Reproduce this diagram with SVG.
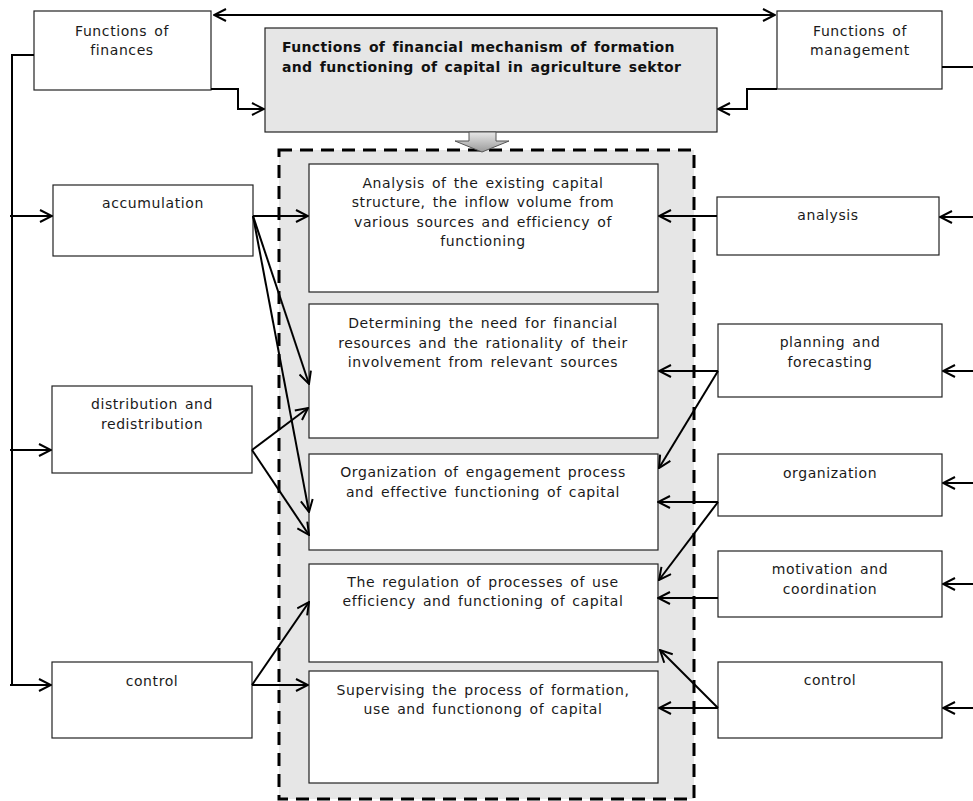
<svg xmlns="http://www.w3.org/2000/svg" width="973" height="801" viewBox="0 0 973 801">
<defs>
<marker id="ah" viewBox="0 0 14 14" refX="13" refY="7" markerWidth="14" markerHeight="14" markerUnits="userSpaceOnUse" orient="auto-start-reverse">
<path d="M1,1 L13,7 L1,13" fill="none" stroke="#000" stroke-width="2"/>
</marker>
<linearGradient id="bg" x1="0" y1="0" x2="0" y2="1">
<stop offset="0" stop-color="#e8e8e8"/>
<stop offset="1" stop-color="#9a9a9a"/>
</linearGradient>
<style>
.box{fill:#fff;stroke:#222;stroke-width:1.2}
.t{font-family:"DejaVu Sans",sans-serif;font-size:14px;fill:#1a1a1a;text-anchor:middle;letter-spacing:0.6px;word-spacing:2px}
.tb{font-family:"DejaVu Sans",sans-serif;font-size:14px;font-weight:bold;fill:#111;letter-spacing:0.35px;word-spacing:2px}
.c{fill:none;stroke:#000;stroke-width:2}
.a{fill:none;stroke:#000;stroke-width:2;marker-end:url(#ah)}
</style>
</defs>
<rect width="973" height="801" fill="#fff"/>

<g id="container">
<rect x="279" y="150" width="415" height="649" fill="#e6e6e6" stroke="#000" stroke-width="3" stroke-dasharray="13,8"/>
</g>

<g id="main">
<rect x="265" y="28" width="452" height="104" fill="#e6e6e6" stroke="#222" stroke-width="1.2"/>
<text class="tb" x="282" y="52">Functions of financial mechanism of formation</text>
<text class="tb" x="282" y="72">and functioning of capital in agriculture sektor</text>
</g>

<g id="downarrow">
<path d="M469,132 L496,132 L496,141 L509,141 L482,152 L455,141 L469,141 Z" fill="url(#bg)" stroke="#555" stroke-width="1"/>
</g>

<g id="fin">
<rect class="box" x="34" y="11" width="177" height="79"/>
<text class="t" x="122" y="36">Functions of</text>
<text class="t" x="122" y="55">finances</text>
</g>
<g id="mgmt">
<rect class="box" x="777" y="11" width="165" height="78"/>
<text class="t" x="860" y="36">Functions of</text>
<text class="t" x="860" y="55">management</text>
</g>

<g id="b1">
<rect class="box" x="309" y="164" width="349" height="128"/>
<text class="t" x="483" y="188">Analysis of the existing capital</text>
<text class="t" x="483" y="207">structure, the inflow volume from</text>
<text class="t" x="483" y="227">various sources and efficiency of</text>
<text class="t" x="483" y="246">functioning</text>
</g>
<g id="b2">
<rect class="box" x="309" y="304" width="349" height="134"/>
<text class="t" x="483" y="328">Determining the need for financial</text>
<text class="t" x="483" y="348">resources and the rationality of their</text>
<text class="t" x="483" y="367">involvement from relevant sources</text>
</g>
<g id="b3">
<rect class="box" x="309" y="454" width="349" height="96"/>
<text class="t" x="483" y="477">Organization of engagement process</text>
<text class="t" x="483" y="497">and effective functioning of capital</text>
</g>
<g id="b4">
<rect class="box" x="309" y="564" width="349" height="98"/>
<text class="t" x="483" y="587">The regulation of processes of use</text>
<text class="t" x="483" y="606">efficiency and functioning of capital</text>
</g>
<g id="b5">
<rect class="box" x="309" y="671" width="349" height="112"/>
<text class="t" x="483" y="695">Supervising the process of formation,</text>
<text class="t" x="483" y="714">use and functionong of capital</text>
</g>

<g id="l1">
<rect class="box" x="53" y="185" width="200" height="71"/>
<text class="t" x="153" y="208">accumulation</text>
</g>
<g id="l2">
<rect class="box" x="52" y="386" width="200" height="87"/>
<text class="t" x="152" y="409">distribution and</text>
<text class="t" x="152" y="429">redistribution</text>
</g>
<g id="l3">
<rect class="box" x="52" y="662" width="200" height="76"/>
<text class="t" x="152" y="686">control</text>
</g>

<g id="r1">
<rect class="box" x="717" y="197" width="222" height="58"/>
<text class="t" x="828" y="220">analysis</text>
</g>
<g id="r2">
<rect class="box" x="718" y="324" width="224" height="73"/>
<text class="t" x="830" y="347">planning and</text>
<text class="t" x="830" y="367">forecasting</text>
</g>
<g id="r3">
<rect class="box" x="718" y="454" width="224" height="62"/>
<text class="t" x="830" y="478">organization</text>
</g>
<g id="r4">
<rect class="box" x="718" y="551" width="224" height="66"/>
<text class="t" x="830" y="574">motivation and</text>
<text class="t" x="830" y="594">coordination</text>
</g>
<g id="r5">
<rect class="box" x="718" y="662" width="224" height="76"/>
<text class="t" x="830" y="685">control</text>
</g>

<g id="connectors">
<line class="c" x1="214" y1="15" x2="775" y2="15" marker-start="url(#ah)" marker-end="url(#ah)"/>
<polyline class="a" points="211,89 238,89 238,109 264,109"/>
<polyline class="a" points="777,89 747,89 747,109 718,109"/>
<line class="c" x1="942" y1="67" x2="973" y2="67"/>
<polyline class="c" points="34,55 12,55 12,685"/>
<line class="a" x1="10" y1="216" x2="52" y2="216"/>
<line class="a" x1="10" y1="450" x2="51" y2="450"/>
<line class="a" x1="10" y1="685" x2="51" y2="685"/>

<line class="a" x1="253" y1="216" x2="308" y2="216"/>
<line class="a" x1="253" y1="216" x2="309" y2="384"/>
<line class="a" x1="253" y1="216" x2="309" y2="512"/>
<line class="a" x1="252" y1="450" x2="308" y2="408"/>
<line class="a" x1="252" y1="450" x2="309" y2="535"/>
<line class="a" x1="252" y1="685" x2="308" y2="685"/>
<line class="a" x1="252" y1="685" x2="309" y2="602"/>

<line class="a" x1="973" y1="217" x2="940" y2="217"/>
<line class="a" x1="973" y1="371" x2="943" y2="371"/>
<line class="a" x1="973" y1="483" x2="943" y2="483"/>
<line class="a" x1="973" y1="584" x2="943" y2="584"/>
<line class="a" x1="973" y1="708" x2="943" y2="708"/>

<line class="a" x1="717" y1="216" x2="659" y2="216"/>
<line class="a" x1="718" y1="371" x2="659" y2="371"/>
<line class="a" x1="718" y1="371" x2="659" y2="468"/>
<line class="a" x1="718" y1="502" x2="658" y2="502"/>
<line class="a" x1="718" y1="502" x2="659" y2="580"/>
<line class="a" x1="718" y1="598" x2="658" y2="598"/>
<line class="a" x1="718" y1="708" x2="659" y2="708"/>
<line class="a" x1="718" y1="708" x2="660" y2="650"/>
</g>
</svg>
